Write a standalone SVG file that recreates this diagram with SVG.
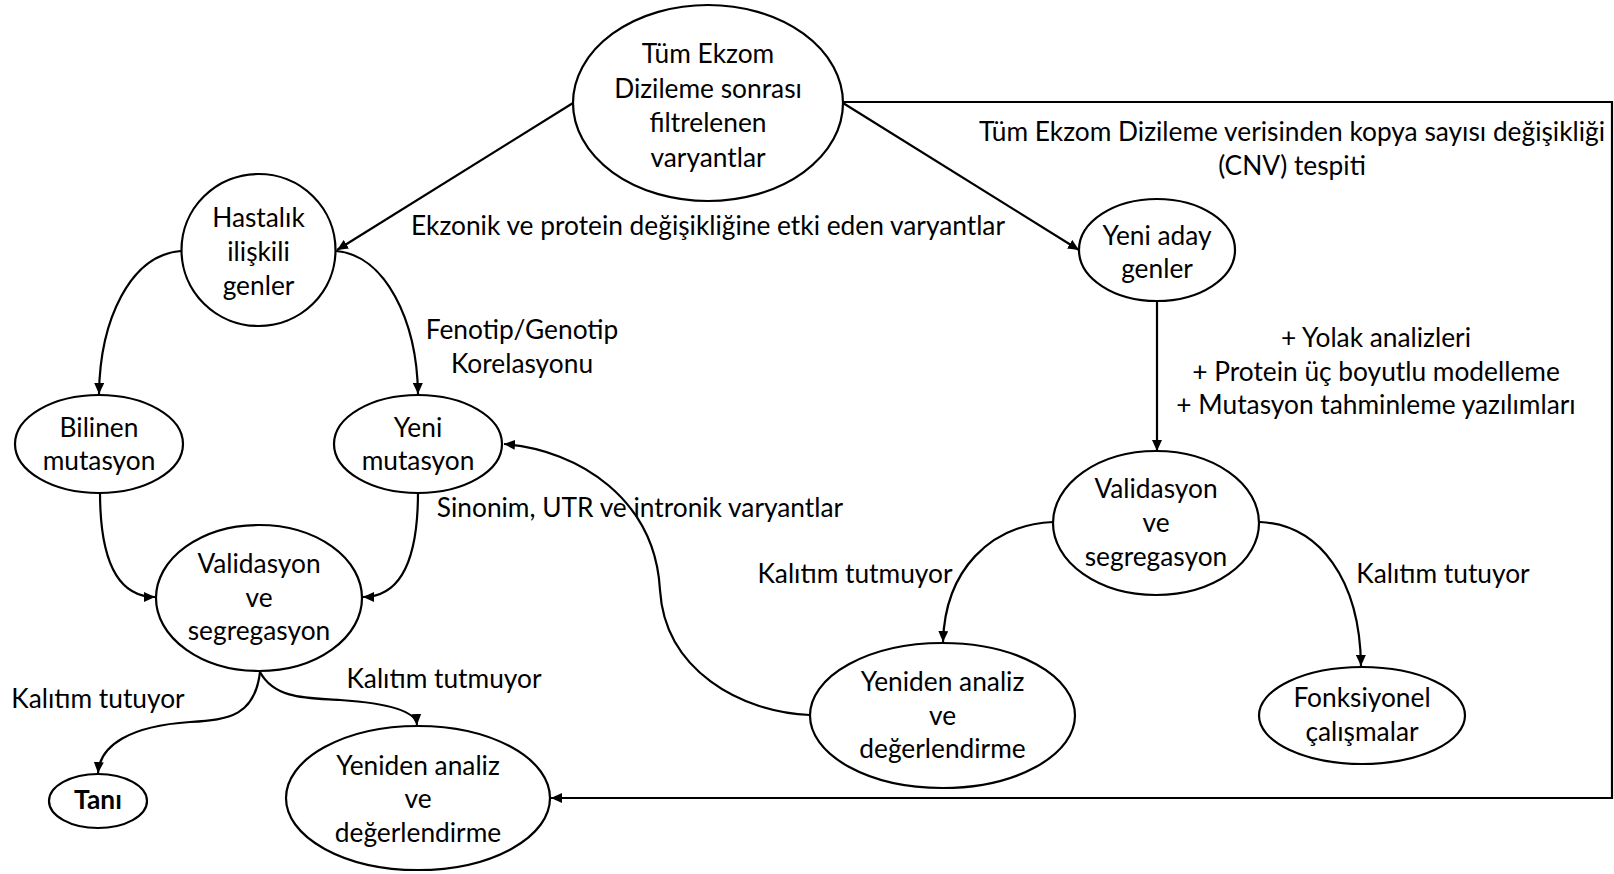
<svg xmlns="http://www.w3.org/2000/svg" width="1614" height="874" viewBox="0 0 1614 874">
  <style>
    .node { fill: #ffffff; stroke: #000000; stroke-width: 2.2; }
    .edge { fill: none; stroke: #000000; stroke-width: 2.2; }
    .arrow { marker-end: url(#head); }
    text { font-family: "Lato", "Carlito", "Liberation Sans", sans-serif; font-size: 26.3px; fill: #000000; text-anchor: middle; }
    .bold { font-weight: bold; }
  </style>
  <defs>
    <marker id="head" markerUnits="userSpaceOnUse" markerWidth="12" markerHeight="10" refX="11" refY="5" orient="auto">
      <path d="M0,0 L11,5 L0,10 z" fill="#000000"/>
    </marker>
  </defs>
  <rect width="1614" height="874" fill="#ffffff"/>

  <!-- connectors -->
  <g id="connectors">
    <path class="edge arrow" d="M573,103 L337,250"/>
    <path class="edge arrow" d="M843,103 L1079,250"/>
    <path class="edge arrow" d="M843,102 L1612,102 L1612,798 L551,798"/>
    <path class="edge arrow" d="M181,251 C130,255 100,320 99,394"/>
    <path class="edge arrow" d="M336,251 C385,255 417,320 418,394"/>
    <path class="edge arrow" d="M100,492 C100,565 120,597 155,597"/>
    <path class="edge arrow" d="M418,492 C418,565 398,597 363,597"/>
    <path class="edge arrow" d="M260,672 C255,715 230,720 190,722 C130,726 100,745 98,773"/>
    <path class="edge arrow" d="M260,672 C275,700 310,698 340,700 C385,703 416,710 417,725"/>
    <path class="edge arrow" d="M1157,301 L1157,451"/>
    <path class="edge arrow" d="M1053,522 C990,525 945,570 943,642"/>
    <path class="edge arrow" d="M1260,522 C1320,525 1360,580 1361,666"/>
    <path class="edge arrow" d="M810,715 C740,712 665,670 660,590 C655,500 580,450 504,444"/>
  </g>

  <!-- edge labels -->
  <g id="labels">
    <text x="708" y="235">Ekzonik ve protein değişikliğine etki eden varyantlar</text>
    <text x="1292" y="141">Tüm Ekzom Dizileme verisinden kopya sayısı değişikliği</text>
    <text x="1292" y="175">(CNV) tespiti</text>
    <text x="522" y="339">Fenotip/Genotip</text>
    <text x="522" y="373">Korelasyonu</text>
    <text x="1376" y="347">+ Yolak analizleri</text>
    <text x="1376" y="381">+ Protein üç boyutlu modelleme</text>
    <text x="1376" y="414">+ Mutasyon tahminleme yazılımları</text>
    <text x="640" y="517">Sinonim, UTR ve intronik varyantlar</text>
    <text x="98" y="708">Kalıtım tutuyor</text>
    <text x="444" y="688">Kalıtım tutmuyor</text>
    <text x="855" y="583">Kalıtım tutmuyor</text>
    <text x="1443" y="583">Kalıtım tutuyor</text>
  </g>

  <!-- nodes -->
  <g id="n-start">
    <ellipse class="node" cx="708" cy="103" rx="135" ry="98"/>
    <text x="708" y="63">Tüm Ekzom</text>
    <text x="708" y="97.5">Dizileme sonrası</text>
    <text x="708" y="132">filtrelenen</text>
    <text x="708" y="166.5">varyantlar</text>
  </g>
  <g id="n-hastalik">
    <ellipse class="node" cx="258.5" cy="250" rx="77" ry="76"/>
    <text x="258.5" y="227">Hastalık</text>
    <text x="258.5" y="261">ilişkili</text>
    <text x="258.5" y="295">genler</text>
  </g>
  <g id="n-bilinen">
    <ellipse class="node" cx="99" cy="444" rx="84" ry="49"/>
    <text x="99" y="437">Bilinen</text>
    <text x="99" y="470">mutasyon</text>
  </g>
  <g id="n-yeni-mut">
    <ellipse class="node" cx="418" cy="444" rx="84" ry="49"/>
    <text x="418" y="437">Yeni</text>
    <text x="418" y="470">mutasyon</text>
  </g>
  <g id="n-valid-left">
    <ellipse class="node" cx="259" cy="598" rx="103" ry="73"/>
    <text x="259" y="573">Validasyon</text>
    <text x="259" y="607">ve</text>
    <text x="259" y="640">segregasyon</text>
  </g>
  <g id="n-tani">
    <ellipse class="node" cx="98" cy="801" rx="49" ry="27"/>
    <text class="bold" x="98" y="809">Tanı</text>
  </g>
  <g id="n-reanaliz-left">
    <ellipse class="node" cx="418" cy="798" rx="132" ry="72"/>
    <text x="418" y="775">Yeniden analiz</text>
    <text x="418" y="808">ve</text>
    <text x="418" y="842">değerlendirme</text>
  </g>
  <g id="n-aday">
    <ellipse class="node" cx="1157" cy="250" rx="78" ry="51"/>
    <text x="1157" y="245">Yeni aday</text>
    <text x="1157" y="278">genler</text>
  </g>
  <g id="n-valid-right">
    <ellipse class="node" cx="1156" cy="523" rx="103" ry="72"/>
    <text x="1156" y="498">Validasyon</text>
    <text x="1156" y="532">ve</text>
    <text x="1156" y="566">segregasyon</text>
  </g>
  <g id="n-reanaliz-right">
    <ellipse class="node" cx="942.5" cy="715.5" rx="132.5" ry="72.5"/>
    <text x="942.5" y="691">Yeniden analiz</text>
    <text x="942.5" y="725">ve</text>
    <text x="942.5" y="758">değerlendirme</text>
  </g>
  <g id="n-fonksiyonel">
    <ellipse class="node" cx="1362" cy="715.5" rx="103" ry="48.5"/>
    <text x="1362" y="707">Fonksiyonel</text>
    <text x="1362" y="741">çalışmalar</text>
  </g>
</svg>
